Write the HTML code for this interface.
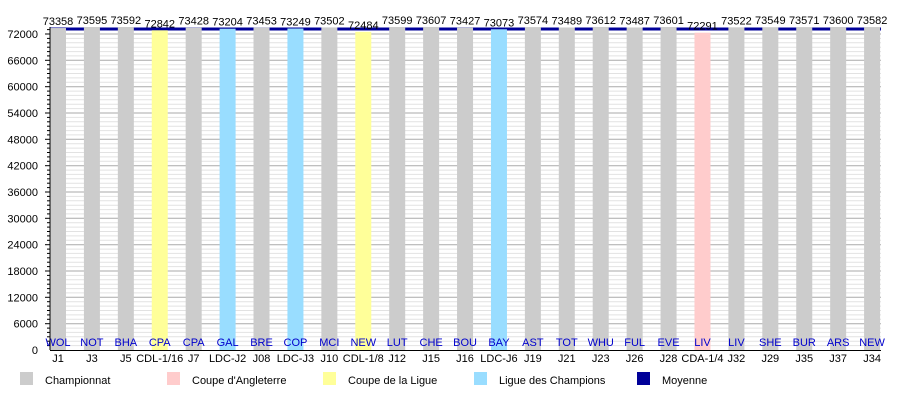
<!DOCTYPE html>
<html><head><meta charset="utf-8"><style>
html,body{margin:0;padding:0;background:#fff;}
svg{display:block;font-family:"Liberation Sans",sans-serif;}
</style></head><body>
<svg id="c" width="900" height="400" xmlns="http://www.w3.org/2000/svg"></svg>
<script>
var d=[[73358,"WOL","J1","C"],[73595,"NOT","J3","C"],[73592,"BHA","J5","C"],[72842,"CPA","CDL-1/16","Y"],[73428,"CPA","J7","C"],[73204,"GAL","LDC-J2","B"],[73453,"BRE","J08","C"],[73249,"COP","LDC-J3","B"],[73502,"MCI","J10","C"],[72484,"NEW","CDL-1/8","Y"],[73599,"LUT","J12","C"],[73607,"CHE","J15","C"],[73427,"BOU","J16","C"],[73073,"BAY","LDC-J6","B"],[73574,"AST","J19","C"],[73489,"TOT","J21","C"],[73612,"WHU","J23","C"],[73487,"FUL","J26","C"],[73601,"EVE","J28","C"],[72291,"LIV","CDA-1/4","P"],[73522,"LIV","J32","C"],[73549,"SHE","J29","C"],[73571,"BUR","J35","C"],[73600,"ARS","J37","C"],[73582,"NEW","J34","C"]];
var col={C:"#cccccc",Y:"#ffff99",B:"#99ddff",P:"#ffcccc"};
var y0=350,k=316/72000,s="";
function Y(v){return y0-v*k;}
for(var v=1000;v<=73000;v+=1000){var yy=Y(v).toFixed(1);var maj=v%6000==0;
s+='<line x1="50" x2="881" y1="'+yy+'" y2="'+yy+'" stroke="'+(maj?'#aaa':'#e2e2e2')+'" stroke-width="1"/>';
s+='<line x1="'+(maj?45:47)+'" x2="50" y1="'+yy+'" y2="'+yy+'" stroke="#000" stroke-width="1"/>';}
for(var v=0;v<=72000;v+=6000){s+='<text x="38" y="'+(Y(v)+4)+'" font-size="11" text-anchor="end">'+v+'</text>';}
s+='<rect x="50" y="27.5" width="831" height="3" fill="#000099"/>';
for(var i=0;i<d.length;i++){var c=58+i*33.92,t=Y(d[i][0]);
s+='<rect x="'+(c-8)+'" y="'+t+'" width="16" height="'+(y0-t)+'" fill="'+col[d[i][3]]+'"/>';
s+='<text x="'+c+'" y="'+(t-3)+'" font-size="11" text-anchor="middle">'+d[i][0]+'</text>';
s+='<text x="'+c+'" y="346" font-size="11" text-anchor="middle" fill="#0000cc">'+d[i][1]+'</text>';
s+='<text x="'+c+'" y="362" font-size="11" text-anchor="middle">'+d[i][2]+'</text>';}
s+='<line x1="50" x2="50" y1="27" y2="350" stroke="#000"/><line x1="50" x2="881" y1="350.5" y2="350.5" stroke="#000"/>';
var L=[[20,"#cccccc","Championnat"],[167,"#ffcccc","Coupe d'Angleterre"],[323,"#ffff99","Coupe de la Ligue"],[474,"#99ddff","Ligue des Champions"],[637,"#000099","Moyenne"]];
for(var j=0;j<L.length;j++){s+='<rect x="'+L[j][0]+'" y="372" width="13" height="13" fill="'+L[j][1]+'"/><text x="'+(L[j][0]+25)+'" y="384" font-size="11">'+L[j][2]+'</text>';}
document.getElementById("c").innerHTML=s;
</script>
</body></html>
